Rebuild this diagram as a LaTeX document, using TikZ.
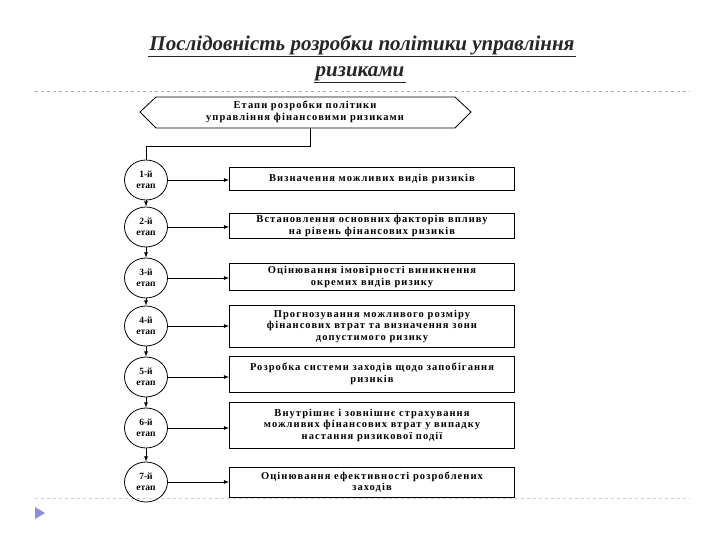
\documentclass[tikz,border=0pt]{standalone}
\usepackage{fontspec}
\setmainfont{Liberation Serif}
\usetikzlibrary{shapes.geometric}
\newcommand{\boxfont}{\bfseries\fontsize{10.5}{11.5}\selectfont\addfontfeature{LetterSpace=10}}
\begin{document}
\begin{tikzpicture}[x=1pt,y=-1pt,
  stagebox/.style={draw,thick,minimum width=285pt,align=center,font=\boxfont,inner sep=2pt},
  stagecirc/.style={draw,thick,ellipse,minimum width=43pt,minimum height=40pt,align=center,inner sep=0pt,font=\bfseries\fontsize{9.5}{11}\selectfont},
  titletext/.style={font=\itshape\bfseries\fontsize{21}{24}\selectfont,text=black!85,inner sep=1pt},
  arr/.style={thick,-latex}]
\useasboundingbox (0,0) rectangle (720,540);
\node[titletext] (t1) at (362,45) {Послідовність розробки політики управління};
\node[titletext] (t2) at (360,74) {ризиками};
\draw[black!85,thick] (t1.south west) -- (t1.south east);
\draw[black!85,thick] (t2.south west) -- (t2.south east);
\draw[gray!60,dashed] (35,91) -- (690,91);
\draw[gray!40,dashed] (35,498) -- (690,498);
\fill[gray!50!blue!60] (35,507) -- (45,513) -- (35,519) -- cycle;
\draw[thick] (140,112) -- (156,97) -- (455,97) -- (471,112) -- (455,128) -- (156,128) -- cycle;
\node[font=\boxfont,align=center] (hex) at (305,112) {Етапи розробки політики\\управління фінансовими ризиками};
\foreach \i/\y in {1/180,2/227,3/278,4/326,5/377,6/428,7/482}{
  \node[stagecirc] (c\i) at (146,\y) {\i-й\\етап};
}
\node[stagebox,minimum height=23pt] (b1) at (372,179) {Визначення можливих видів ризиків};
\node[stagebox,minimum height=23pt] (b2) at (372,226) {Встановлення основних факторів впливу\\на рівень фінансових ризиків};
\node[stagebox,minimum height=27pt] (b3) at (372,277) {Оцінювання імовірності виникнення\\окремих видів ризику};
\node[stagebox,minimum height=42pt] (b4) at (372,326) {Прогнозування можливого розміру\\фінансових втрат та визначення зони\\допустимого ризику};
\node[stagebox,minimum height=36pt] (b5) at (372,374) {Розробка системи заходів щодо запобігання\\ризиків};
\node[stagebox,minimum height=46pt] (b6) at (372,425) {Внутрішнє і зовнішнє страхування\\можливих фінансових втрат у випадку\\настання ризикової події};
\node[stagebox,minimum height=30pt] (b7) at (372,482) {Оцінювання ефективності розроблених\\заходів};
\coordinate (h1) at (310,128);
\draw[thick] (h1) -- (310,146) -- (146,146) -- (c1.north);
\foreach \i in {1,...,7}{\draw[arr] (c\i.east) -- (b\i.west|-c\i.east);}
\foreach \i/\j in {1/2,2/3,3/4,4/5,5/6,6/7}{\draw[arr] (c\i.south) -- (c\j.north);}
\end{tikzpicture}
\end{document}
